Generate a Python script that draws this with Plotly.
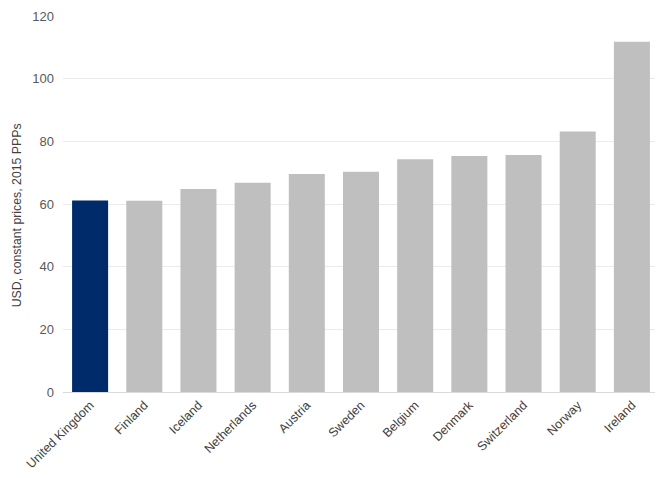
import plotly.graph_objects as go

countries = ["United Kingdom", "Finland", "Iceland", "Netherlands", "Austria", "Sweden",
             "Belgium", "Denmark", "Switzerland", "Norway", "Ireland"]
values = [61.1, 61.0, 64.8, 66.8, 69.6, 70.3, 74.3, 75.3, 75.6, 83.1, 111.8]
highlight = "United Kingdom"
y_title = "USD, constant prices, 2015 PPPs"

colors = ["#002b6b" if c == highlight else "#bfbfbf" for c in countries]

fig = go.Figure()
fig.add_trace(go.Bar(x=countries, y=values, marker=dict(color=colors, line=dict(width=0))))

# page body has an 8px margin, so the figure is a bit smaller than the window
fig.update_layout(
    width=655, height=470,
    margin=dict(l=55, r=4, t=8, b=86),
    paper_bgcolor="white", plot_bgcolor="white",
    bargap=0.335,
    showlegend=False,
    font=dict(family="Liberation Sans, Arial, sans-serif", color="#404040"),
)
fig.update_xaxes(tickangle=-45, tickfont=dict(size=12.5, color="#404040"), automargin=False,
                 showline=True, linecolor="#d9d9d9", linewidth=1, ticks="")
fig.update_yaxes(range=[0, 120], dtick=20, tickfont=dict(size=13, color="#595959"),
                 showgrid=True, gridcolor="#ebebeb", gridwidth=1, zeroline=False,
                 ticklabelstandoff=8, automargin=False)

# y title sits a little below the middle of the axis, so place it by hand
fig.add_annotation(text=y_title, textangle=-90, xref="paper", yref="paper",
                   x=0, y=0.47, xanchor="center", yanchor="middle", xshift=-46,
                   showarrow=False, font=dict(size=12.3, color="#404040"))

fig.write_html("out.html")
